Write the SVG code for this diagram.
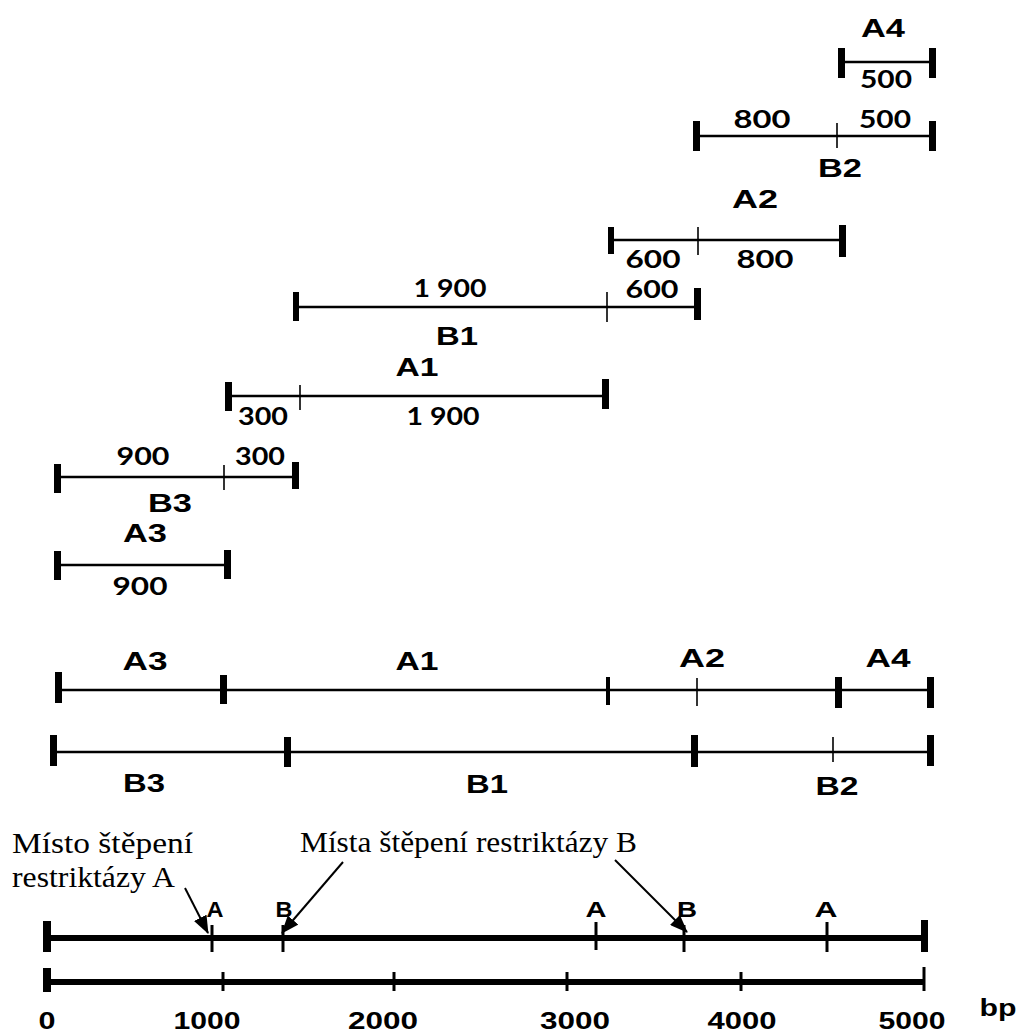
<svg xmlns="http://www.w3.org/2000/svg" width="1021" height="1034" viewBox="0 0 1021 1034">
<style>
.ln{stroke:#000;stroke-width:2.4;fill:none}
.thin{stroke:#000;stroke-width:1.6}
.mid{stroke:#000;stroke-width:3}
.tk{fill:#000}
.bold{stroke:#000;stroke-width:6;fill:none}
.lbl{font-family:"Liberation Sans",Arial,sans-serif;font-weight:bold;font-size:25px;text-anchor:middle;fill:#000}
.num{font-family:Lato,"Liberation Sans",sans-serif;font-weight:bold;font-size:24px;text-anchor:middle;fill:#000}
.sm{font-family:"Liberation Sans",Arial,sans-serif;font-weight:bold;font-size:22px;text-anchor:middle;fill:#000}
.sc{font-family:"Liberation Sans",Arial,sans-serif;font-weight:bold;font-size:24px;text-anchor:middle;fill:#000}
.ser{font-family:"Liberation Serif","Times New Roman",serif;font-size:29px;fill:#000}
.arr{stroke:#000;stroke-width:2;fill:none}
</style>
<defs>
<marker id="ah" viewBox="0 0 18 14" refX="17" refY="7" markerWidth="18" markerHeight="14" markerUnits="userSpaceOnUse" orient="auto">
<path d="M0,0 L18,7 L0,14 z" fill="#000"/>
</marker>
</defs>
<rect width="1021" height="1034" fill="#fff"/>

<g id="frag-A4">
<line class="ln" x1="841" y1="62" x2="932" y2="62"/>
<rect class="tk" x="838" y="48" width="7" height="30"/>
<rect class="tk" x="929" y="48" width="7" height="30"/>
<text class="lbl" x="883" y="37" textLength="44" lengthAdjust="spacingAndGlyphs">A4</text>
<text class="num" x="886" y="88" textLength="52" lengthAdjust="spacingAndGlyphs">500</text>
</g>

<g id="frag-B2">
<line class="ln" x1="696" y1="136" x2="932" y2="136"/>
<rect class="tk" x="693" y="121" width="7" height="30"/>
<line class="thin" x1="837" y1="123" x2="837" y2="148"/>
<rect class="tk" x="929" y="121" width="7" height="30"/>
<text class="num" x="762" y="128" textLength="57" lengthAdjust="spacingAndGlyphs">800</text>
<text class="num" x="885" y="128" textLength="52" lengthAdjust="spacingAndGlyphs">500</text>
<text class="lbl" x="840" y="177" textLength="44" lengthAdjust="spacingAndGlyphs">B2</text>
</g>

<g id="frag-A2">
<line class="ln" x1="611" y1="240" x2="842" y2="240"/>
<rect class="tk" x="608" y="227" width="6" height="27"/>
<line class="thin" x1="698" y1="227" x2="698" y2="255"/>
<rect class="tk" x="839" y="225" width="7" height="32"/>
<text class="lbl" x="755" y="208" textLength="46" lengthAdjust="spacingAndGlyphs">A2</text>
<text class="num" x="653" y="268" textLength="55" lengthAdjust="spacingAndGlyphs">600</text>
<text class="num" x="765" y="268" textLength="57" lengthAdjust="spacingAndGlyphs">800</text>
</g>

<g id="frag-B1">
<line class="ln" x1="296" y1="307" x2="697" y2="307"/>
<rect class="tk" x="293" y="292" width="6" height="29"/>
<line class="thin" x1="607" y1="292" x2="607" y2="322"/>
<rect class="tk" x="694" y="288" width="7" height="32"/>
<text class="num" x="450" y="297" textLength="73" lengthAdjust="spacingAndGlyphs">1 900</text>
<text class="num" x="652" y="298" textLength="53" lengthAdjust="spacingAndGlyphs">600</text>
<text class="lbl" x="457" y="345" textLength="42" lengthAdjust="spacingAndGlyphs">B1</text>
</g>

<g id="frag-A1">
<line class="ln" x1="228" y1="396" x2="605" y2="396"/>
<rect class="tk" x="225" y="382" width="7" height="29"/>
<line class="thin" x1="300" y1="385" x2="300" y2="410"/>
<rect class="tk" x="602" y="379" width="7" height="30"/>
<text class="lbl" x="417" y="376" textLength="43" lengthAdjust="spacingAndGlyphs">A1</text>
<text class="num" x="263" y="425" textLength="50" lengthAdjust="spacingAndGlyphs">300</text>
<text class="num" x="443" y="425" textLength="73" lengthAdjust="spacingAndGlyphs">1 900</text>
</g>

<g id="frag-B3">
<line class="ln" x1="57" y1="477" x2="295" y2="477"/>
<rect class="tk" x="54" y="464" width="7" height="29"/>
<line class="thin" x1="224" y1="465" x2="224" y2="490"/>
<rect class="tk" x="292" y="462" width="7" height="27"/>
<text class="num" x="143" y="465" textLength="53" lengthAdjust="spacingAndGlyphs">900</text>
<text class="num" x="260" y="465" textLength="50" lengthAdjust="spacingAndGlyphs">300</text>
<text class="lbl" x="170" y="512" textLength="44" lengthAdjust="spacingAndGlyphs">B3</text>
</g>

<g id="frag-A3">
<line class="ln" x1="57" y1="565" x2="227" y2="565"/>
<rect class="tk" x="54" y="551" width="7" height="29"/>
<rect class="tk" x="224" y="550" width="7" height="29"/>
<text class="lbl" x="145" y="542" textLength="44" lengthAdjust="spacingAndGlyphs">A3</text>
<text class="num" x="140" y="595" textLength="55" lengthAdjust="spacingAndGlyphs">900</text>
</g>

<g id="map-A">
<line class="ln" x1="58" y1="690" x2="930" y2="690"/>
<rect class="tk" x="55" y="672" width="7" height="31"/>
<rect class="tk" x="220" y="675" width="7" height="29"/>
<rect class="tk" x="606" y="677" width="4" height="28"/>
<line class="thin" x1="697" y1="678" x2="697" y2="706"/>
<rect class="tk" x="835" y="677" width="7" height="31"/>
<rect class="tk" x="927" y="677" width="7" height="31"/>
<text class="lbl" x="145" y="670" textLength="45" lengthAdjust="spacingAndGlyphs">A3</text>
<text class="lbl" x="417" y="670" textLength="43" lengthAdjust="spacingAndGlyphs">A1</text>
<text class="lbl" x="702" y="667" textLength="46" lengthAdjust="spacingAndGlyphs">A2</text>
<text class="lbl" x="888" y="667" textLength="45" lengthAdjust="spacingAndGlyphs">A4</text>
</g>

<g id="map-B">
<line class="ln" x1="53" y1="752" x2="930" y2="752"/>
<rect class="tk" x="50" y="735" width="7" height="31"/>
<rect class="tk" x="284" y="737" width="7" height="30"/>
<rect class="tk" x="691" y="735" width="7" height="32"/>
<line class="thin" x1="833" y1="737" x2="833" y2="762"/>
<rect class="tk" x="927" y="735" width="7" height="31"/>
<text class="lbl" x="144" y="792" textLength="42" lengthAdjust="spacingAndGlyphs">B3</text>
<text class="lbl" x="487" y="793" textLength="42" lengthAdjust="spacingAndGlyphs">B1</text>
<text class="lbl" x="837" y="795" textLength="43" lengthAdjust="spacingAndGlyphs">B2</text>
</g>

<g id="restriction-map">
<line class="bold" x1="47" y1="938" x2="925" y2="938"/>
<rect class="tk" x="43" y="921" width="8" height="31"/>
<rect class="tk" x="921" y="920" width="7" height="32"/>
<line class="mid" x1="212" y1="925" x2="212" y2="952"/>
<line class="mid" x1="283" y1="925" x2="283" y2="952"/>
<line class="mid" x1="596" y1="922" x2="596" y2="950"/>
<line class="mid" x1="684" y1="925" x2="684" y2="952"/>
<line class="mid" x1="827" y1="922" x2="827" y2="952"/>
<text class="sm" x="215" y="917" textLength="17" lengthAdjust="spacingAndGlyphs">A</text>
<text class="sm" x="284" y="917" textLength="17" lengthAdjust="spacingAndGlyphs">B</text>
<text class="sm" x="596" y="917" textLength="21" lengthAdjust="spacingAndGlyphs">A</text>
<text class="sm" x="687" y="917" textLength="20" lengthAdjust="spacingAndGlyphs">B</text>
<text class="sm" x="826" y="917" textLength="23" lengthAdjust="spacingAndGlyphs">A</text>
</g>

<g id="scale">
<line class="bold" x1="47" y1="982" x2="924" y2="982"/>
<rect class="tk" x="43" y="968" width="8" height="24"/>
<line class="mid" x1="223" y1="972" x2="223" y2="991"/>
<line class="mid" x1="394" y1="972" x2="394" y2="991"/>
<line class="mid" x1="567" y1="972" x2="567" y2="991"/>
<line class="mid" x1="741" y1="972" x2="741" y2="991"/>
<line class="mid" x1="924" y1="967" x2="924" y2="991"/>
<text class="sc" x="47" y="1029" textLength="17" lengthAdjust="spacingAndGlyphs">0</text>
<text class="sc" x="207" y="1029" textLength="67" lengthAdjust="spacingAndGlyphs">1000</text>
<text class="sc" x="383" y="1029" textLength="70" lengthAdjust="spacingAndGlyphs">2000</text>
<text class="sc" x="575" y="1029" textLength="70" lengthAdjust="spacingAndGlyphs">3000</text>
<text class="sc" x="742" y="1029" textLength="69" lengthAdjust="spacingAndGlyphs">4000</text>
<text class="sc" x="912" y="1029" textLength="67" lengthAdjust="spacingAndGlyphs">5000</text>
<text class="sc" x="998" y="1016" textLength="37" lengthAdjust="spacingAndGlyphs">bp</text>
</g>

<g id="note-A">
<text class="ser" x="12" y="853" textLength="181" lengthAdjust="spacingAndGlyphs">Místo štěpení</text>
<text class="ser" x="12" y="887" textLength="163" lengthAdjust="spacingAndGlyphs">restriktázy A</text>
</g>
<g id="note-B">
<text class="ser" x="300" y="852" textLength="337" lengthAdjust="spacingAndGlyphs">Místa štěpení restriktázy B</text>
</g>

<g id="connectors">
<line class="arr" x1="185" y1="888" x2="208" y2="933" marker-end="url(#ah)"/>
<line class="arr" x1="343" y1="862" x2="282" y2="933" marker-end="url(#ah)"/>
<line class="arr" x1="615" y1="860" x2="687" y2="932" marker-end="url(#ah)"/>
</g>
</svg>
